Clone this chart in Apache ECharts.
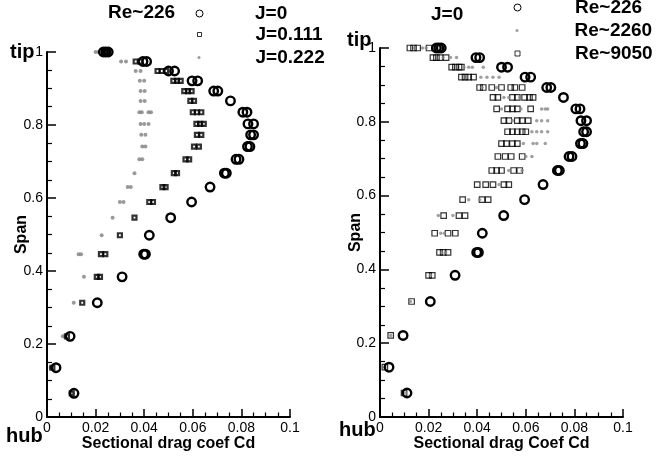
<!DOCTYPE html>
<html>
<head>
<meta charset="utf-8">
<script src="https://cdn.jsdelivr.net/npm/echarts@6/dist/echarts.min.js"></script>
<style>
    html, body { margin: 0; padding: 0; background: #fff; }
    #main { width: 659px; height: 457px; }
</style>
</head>
<body>
<div id="main"></div>
<script>
// span stations (same for every run)
var span = [1.0, 0.974, 0.948, 0.921, 0.893, 0.866, 0.835, 0.803, 0.773, 0.741, 0.706,
    0.668, 0.630, 0.589, 0.546, 0.498, 0.446, 0.384, 0.313, 0.221, 0.135, 0.065];

// Cd samples per span station (a few time samples overlap at each station)
var cdJ0 = [[0.0232, 0.0242, 0.0252], [0.0395, 0.0410], [0.0500, 0.0525], [0.0597, 0.0620], [0.0686, 0.0703],
    [0.0755], [0.0806, 0.0823], [0.0827, 0.0850], [0.0838, 0.0850], [0.0825, 0.0835], [0.0778, 0.0790],
    [0.0730, 0.0738], [0.0671], [0.0595], [0.0509], [0.0421], [0.0398, 0.0405], [0.0309], [0.0207],
    [0.0095], [0.0037], [0.0111]];
var cdJ0111 = [[0.0235, 0.0245], [0.0365, 0.0385], [0.0455, 0.0472, 0.0490], [0.0520, 0.0535, 0.0550],
    [0.0565, 0.0580, 0.0595], [0.0590, 0.0605], [0.0600, 0.0617, 0.0635], [0.0615, 0.0630, 0.0645],
    [0.0617, 0.0635], [0.0605, 0.0625], [0.0570, 0.0585], [0.0522, 0.0535], [0.0475, 0.0488],
    [0.0421, 0.0436], [0.0360], [0.0300], [0.0222, 0.0240], [0.0205, 0.0218], [0.0145], [0.0082],
    [0.0022], [0.0102]];
var cdJ0222 = [[0.0200, 0.0212], [0.0305, 0.0325], [0.0365, 0.0385], [0.0382, 0.0400], [0.0385, 0.0402],
    [0.0385, 0.0402], [0.0380, 0.0390, 0.0418, 0.0428], [0.0385, 0.0400, 0.0418], [0.0388, 0.0405],
    [0.0392, 0.0405], [0.0380, 0.0392], [0.0360], [0.0332, 0.0345], [0.0300, 0.0315], [0.0270],
    [0.0225], [0.0130, 0.0140], [0.0152], [0.0110], [0.0065], [0.0015], [0.0100]];
var cdRe226 = cdJ0;
var cdRe2260 = [[0.0143, 0.0175, 0.0190], [0.0260, 0.0290, 0.0315], [0.0345, 0.0365, 0.0380, 0.0425],
    [0.0415, 0.0440, 0.0465, 0.0490], [0.0420, 0.0480], [0.0510, 0.0530, 0.0575],
    [0.0500, 0.0580, 0.0665, 0.0680, 0.0690], [0.0545, 0.0645, 0.0665, 0.0690],
    [0.0625, 0.0645, 0.0665, 0.0690], [0.0590, 0.0630, 0.0645, 0.0680], [0.0600, 0.0625],
    [0.0530, 0.0585], [0.0490], [0.0365, 0.0410], [0.0240, 0.0300], [0.0250, 0.0265],
    [0.0255, 0.0270], [0.0208], [0.0125], [0.0044], [0.0020], [0.0105]];
var cdRe9050 = [[0.0123, 0.0138, 0.0155, 0.0202], [0.0218, 0.0232, 0.0247, 0.0272],
    [0.0295, 0.0310, 0.0325, 0.0335], [0.0335, 0.0350, 0.0365, 0.0385],
    [0.0410, 0.0425, 0.0460, 0.0500, 0.0538, 0.0555, 0.0585],
    [0.0465, 0.0485, 0.0545, 0.0565, 0.0595, 0.0615, 0.0630],
    [0.0480, 0.0525, 0.0545, 0.0565, 0.0620], [0.0510, 0.0530, 0.0565, 0.0585, 0.0610],
    [0.0525, 0.0545, 0.0565, 0.0585, 0.0600], [0.0500, 0.0520, 0.0545, 0.0565],
    [0.0485, 0.0515, 0.0540, 0.0585], [0.0460, 0.0480, 0.0500, 0.0550, 0.0575],
    [0.0400, 0.0435, 0.0465, 0.0510, 0.0530], [0.0340, 0.0420, 0.0445], [0.0262, 0.0325, 0.0350],
    [0.0225, 0.0280, 0.0310], [0.0245, 0.0260, 0.0280], [0.0200, 0.0215], [0.0130], [0.0044],
    [0.0020], [0.0099]];

var font = 'Liberation Sans, Arial, sans-serif';

function pts(cols) {
    var out = [];
    cols.forEach(function (c, i) {
        c.forEach(function (v) {
            out.push([v, span[i]]);
        });
    });
    return out;
}

function xAxisOf(idx, name) {
    return {
        gridIndex: idx, type: 'value', min: 0, max: 0.1, interval: 0.02,
        name: name, nameLocation: 'middle', nameGap: 19, nameMoveOverlap: false,
        nameTextStyle: { fontFamily: font, fontSize: 16, fontWeight: 'bold', color: '#000' },
        axisLine: { show: true, onZero: false, lineStyle: { color: '#000', width: 2 } },
        axisTick: { show: true, inside: true, length: 8, lineStyle: { color: '#000', width: 1.5 } },
        minorTick: { show: true, splitNumber: 4, length: 4.5, lineStyle: { color: '#000', width: 1.2 } },
        axisLabel: { fontFamily: font, fontSize: 14, color: '#000', margin: 4 },
        splitLine: { show: false }
    };
}
function yAxisOf(idx, gap) {
    return {
        gridIndex: idx, type: 'value', min: 0, max: 1, interval: 0.2,
        name: 'Span', nameLocation: 'middle', nameGap: gap, nameRotate: 90, nameMoveOverlap: false,
        nameTextStyle: { fontFamily: font, fontSize: 16, fontWeight: 'bold', color: '#000' },
        axisLine: { show: true, onZero: false, lineStyle: { color: '#000', width: 2 } },
        axisTick: { show: true, inside: true, length: 9, lineStyle: { color: '#000', width: 1.5 } },
        minorTick: { show: true, splitNumber: 4, length: 5, lineStyle: { color: '#000', width: 1.2 } },
        axisLabel: { fontFamily: font, fontSize: 14, color: '#000', margin: 4 },
        splitLine: { show: false }
    };
}

var circleStyle = { color: 'rgba(0,0,0,0)', borderColor: '#000', borderWidth: 2.4, opacity: 1 };
function legendOf(name, left, top, size, pad, style) {
    return {
        data: [{ name: name, itemStyle: style }], left: left, top: top, padding: 0,
        itemWidth: size, itemHeight: size, selectedMode: false,
        textStyle: { fontFamily: font, fontSize: 19, fontWeight: 'bold', color: '#000', padding: [0, 0, 0, pad] }
    };
}

var chart = echarts.init(document.getElementById('main'));
chart.setOption({
    animation: false,
    backgroundColor: '#fff',
    title: [
        { text: 'Re~226', left: 108, top: 3, padding: 0,
          textStyle: { fontFamily: font, fontSize: 19, fontWeight: 'bold', color: '#000' } },
        { text: 'J=0', left: 431, top: 5, padding: 0,
          textStyle: { fontFamily: font, fontSize: 19, fontWeight: 'bold', color: '#000' } }
    ],
    legend: [
        legendOf('J=0', 195.5, 4, 7, 47, { borderWidth: 1 }),
        legendOf('J=0.111', 197, 25, 4, 49, { borderWidth: 1 }),
        legendOf('J=0.222', 197.5, 48, 3, 50, {}),
        legendOf('Re~226', 513.5, -2, 7, 49, { borderWidth: 1 }),
        legendOf('Re~2260', 515.5, 21, 3, 51, {}),
        legendOf('Re~9050', 514.5, 44, 5, 50, { borderWidth: 1 })
    ],
    grid: [
        { left: 47, top: 52, width: 243, height: 366 },
        { left: 380, top: 48, width: 243, height: 369 }
    ],
    xAxis: [xAxisOf(0, 'Sectional drag coef Cd'), xAxisOf(1, 'Sectional drag Coef Cd')],
    yAxis: [yAxisOf(0, 17), yAxisOf(1, 16)],
    graphic: [
        { type: 'text', left: 10, top: 42, style: { text: 'tip', font: 'bold 20px ' + font, fill: '#000' } },
        { type: 'text', left: 6, top: 426, style: { text: 'hub', font: 'bold 20px ' + font, fill: '#000' } },
        { type: 'text', left: 347, top: 30, style: { text: 'tip', font: 'bold 20px ' + font, fill: '#000' } },
        { type: 'text', left: 339, top: 420, style: { text: 'hub', font: 'bold 20px ' + font, fill: '#000' } }
    ],
    series: [
        { name: 'J=0.222', type: 'scatter', xAxisIndex: 0, yAxisIndex: 0, data: pts(cdJ0222),
          symbol: 'circle', symbolSize: 4, itemStyle: { color: '#808080' }, emphasis: { disabled: true } },
        { name: 'J=0.111', type: 'scatter', xAxisIndex: 0, yAxisIndex: 0, data: pts(cdJ0111),
          symbol: 'rect', symbolSize: 4,
          itemStyle: { color: 'rgba(0,0,0,0)', borderColor: '#000', borderWidth: 2.2 }, emphasis: { disabled: true } },
        { name: 'J=0', type: 'scatter', xAxisIndex: 0, yAxisIndex: 0, data: pts(cdJ0),
          symbol: 'circle', symbolSize: 8.5, itemStyle: circleStyle, emphasis: { disabled: true } },
        { name: 'Re~9050', type: 'scatter', xAxisIndex: 1, yAxisIndex: 1, data: pts(cdRe9050),
          symbol: 'rect', symbolSize: 5.5,
          itemStyle: { color: 'rgba(0,0,0,0)', borderColor: '#000', borderWidth: 1.2 }, emphasis: { disabled: true } },
        { name: 'Re~2260', type: 'scatter', xAxisIndex: 1, yAxisIndex: 1, data: pts(cdRe2260),
          symbol: 'circle', symbolSize: 3.5, itemStyle: { color: '#888' }, emphasis: { disabled: true } },
        { name: 'Re~226', type: 'scatter', xAxisIndex: 1, yAxisIndex: 1, data: pts(cdRe226),
          symbol: 'circle', symbolSize: 8.5, itemStyle: circleStyle, emphasis: { disabled: true } }
    ]
});
</script>
</body>
</html>
